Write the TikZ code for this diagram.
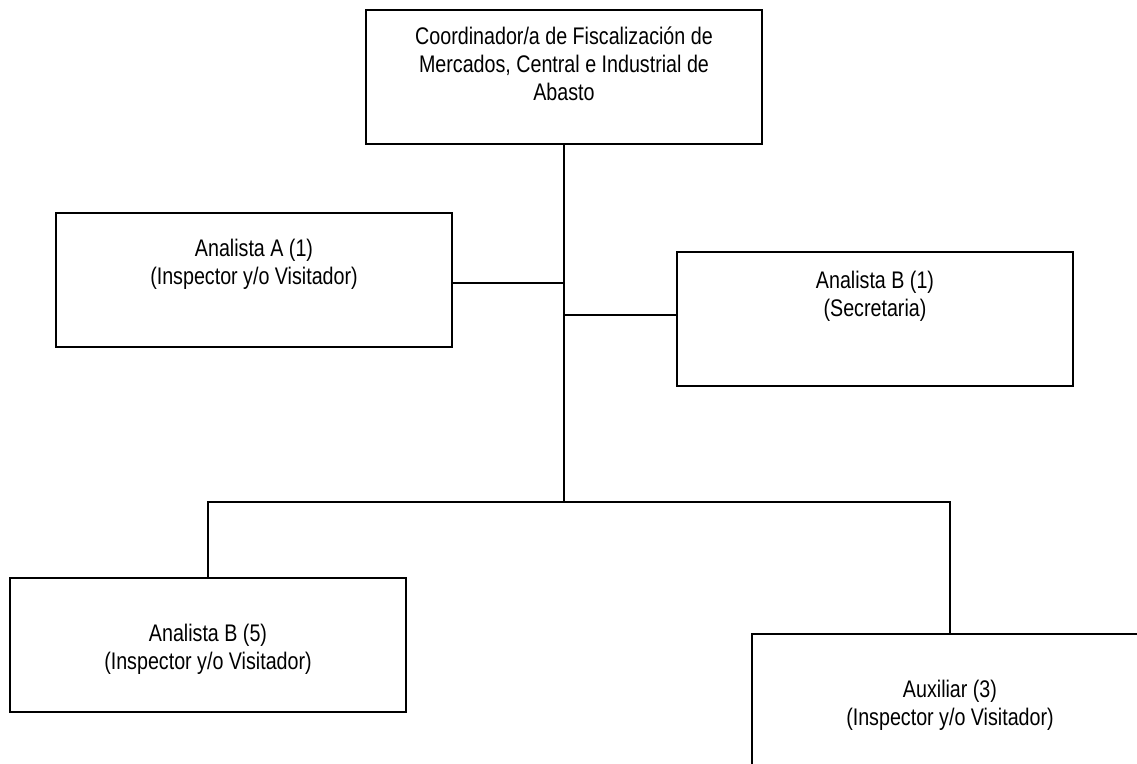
\documentclass[tikz,border=0pt]{standalone}
\usepackage{fontspec}
\setmainfont{Liberation Sans}[FakeStretch=0.82]
\usepackage{tikz}
\usetikzlibrary{calc}
\newcommand{\orgbox}[2]{\parbox[c][67pt][t]{198pt}{\centering\rule{0pt}{#1}#2}}

\begin{document}
\begin{tikzpicture}[x=0.5pt,y=-0.5pt,line width=1pt,
  puesto/.style={draw,inner sep=0pt,font=\fontsize{12}{14}\selectfont}]
\useasboundingbox (0,0) rectangle (1137,764);
\clip (0,0) rectangle (1137,764);
\node[puesto] (coord) at (564,77) {\orgbox{17.5pt}{Coordinador/a de Fiscalizaci\'on de\\ Mercados, Central e Industrial de\\ Abasto}};
\node[puesto] (anA) at (254,280) {\orgbox{22pt}{Analista A (1)\\ (Inspector y/o Visitador)}};
\node[puesto] (anB) at (875,319) {\orgbox{18.5pt}{Analista B (1)\\ (Secretaria)}};
\node[puesto] (anB5) at (208,645) {\orgbox{32pt}{Analista B (5)\\ (Inspector y/o Visitador)}};
\node[puesto] (aux) at (950,701) {\orgbox{32pt}{Auxiliar (3)\\ (Inspector y/o Visitador)}};
\coordinate (hub) at (564,502);
\draw (coord.south) -- (hub)
  ([yshift=-1.5pt]anA.east) -- ([yshift=-1.5pt]anA.east -| hub)
  ([yshift=2pt]anB.west) -- ([yshift=2pt]anB.west -| hub)
  (anB5.north) -- (anB5.north |- hub) -- (aux.north |- hub) -- (aux.north);
\end{tikzpicture}
\end{document}
